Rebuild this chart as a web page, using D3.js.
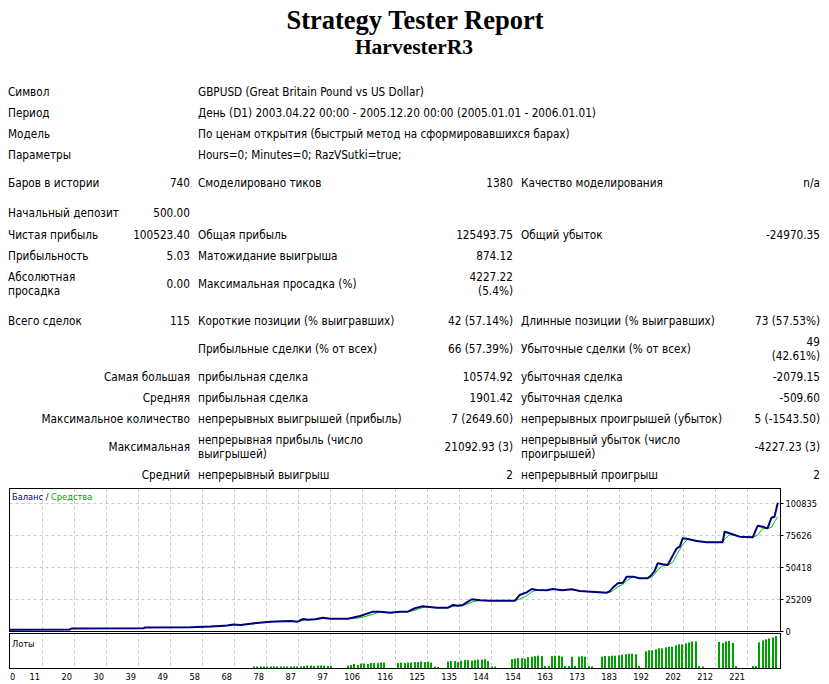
<!DOCTYPE html>
<html>
<head>
<meta charset="utf-8">
<script src="https://cdn.jsdelivr.net/npm/d3@7"></script>
<style>
  body { margin: 0; background: #fff; }
  text { font-family: "DejaVu Sans Condensed", "Liberation Sans", sans-serif; fill: #000; }
  .title { font-family: "Liberation Serif", serif; font-weight: bold; }
  .cell { font-size: 11.7px; }
  .axis { font-size: 9.2px; }
</style>
</head>
<body>
<div class="chart"></div>
<script>
// ---- report text ----
var reportTitle = "Strategy Tester Report";
var expertName = "HarvesterR3";

var infoLabels = ["Символ", "Период", "Модель", "Параметры"];
var infoValues = [
  "GBPUSD (Great Britain Pound vs US Dollar)",
  "День (D1) 2003.04.22 00:00 - 2005.12.20 00:00 (2005.01.01 - 2006.01.01)",
  "По ценам открытия (быстрый метод на сформировавшихся барах)",
  "Hours=0; Minutes=0; RazVSutki=true;"
];

// six columns per row, "\n" = two lines in one cell
var statRows = [
  ["Баров в истории", "740", "Смоделировано тиков", "1380", "Качество моделирования", "n/a"],
  ["Начальный депозит", "500.00", "", "", "", ""],
  ["Чистая прибыль", "100523.40", "Общая прибыль", "125493.75", "Общий убыток", "-24970.35"],
  ["Прибыльность", "5.03", "Матожидание выигрыша", "874.12", "", ""],
  ["Абсолютная\nпросадка", "0.00", "Максимальная просадка (%)", "4227.22\n(5.4%)", "", ""],
  ["Всего сделок", "115", "Короткие позиции (% выигравших)", "42 (57.14%)", "Длинные позиции (% выигравших)", "73 (57.53%)"],
  ["", "", "Прибыльные сделки (% от всех)", "66 (57.39%)", "Убыточные сделки (% от всех)", "49\n(42.61%)"],
  ["", "Самая большая", "прибыльная сделка", "10574.92", "убыточная сделка", "-2079.15"],
  ["", "Средняя", "прибыльная сделка", "1901.42", "убыточная сделка", "-509.60"],
  ["", "Максимальное количество", "непрерывных выигрышей (прибыль)", "7 (2649.60)", "непрерывных проигрышей (убыток)", "5 (-1543.50)"],
  ["", "Максимальная", "непрерывная прибыль (число\nвыигрышей)", "21092.93 (3)", "непрерывный убыток (число\nпроигрышей)", "-4227.23 (3)"],
  ["", "Средний", "непрерывный выигрыш", "2", "непрерывный проигрыш", "2"]
];

// ---- chart data ----
var tradeNo = [0, 18, 18.5, 40, 40.5, 54, 60, 63, 65, 67, 69, 72, 78, 84, 86, 87.7, 89.2, 91.3, 93.7, 95.8,
  101.1, 104.7, 108.6, 110.7, 113.7, 116.6, 119, 121.1, 123.2, 124.7, 127.7, 131, 132.5, 134, 135.4, 138.1,
  140.5, 143.5, 151, 152.4, 154.5, 156, 157.5, 160.5, 162.3, 165, 168, 170.3, 178.4, 179.3, 180.2, 181.7,
  183.2, 184.4, 186.2, 188.2, 190.6, 191.8, 192.7, 193.6, 195.1, 196.6, 198.1, 199.3, 200.2, 201.1, 202.6,
  205.3, 208.3, 213, 213.6, 215.1, 218.1, 222, 223.5, 224.9, 226.4, 227.6, 228.5, 229.5];
var balance = [500, 700, 1600, 1700, 2400, 2500, 3100, 3600, 3900, 4700, 4300, 5400, 7000, 7500, 7000, 9100, 8500, 8900, 10100, 9300,
  9300, 11500, 14900, 14900, 14100, 14900, 14900, 17600, 19100, 18800, 18000, 18000, 20200, 19600, 20200, 24700,
  23900, 23600, 23600, 28100, 30200, 32800, 32000, 31800, 32800, 31800, 32600, 31200, 29900, 31200, 33900, 37300,
  37800, 42600, 42600, 41300, 41300, 43900, 47100, 53100, 52400, 51800, 59200, 65000, 66300, 72900, 72400,
  70800, 69800, 69800, 78100, 76900, 74200, 73700, 82900, 82100, 80800, 89200, 90000, 101023];
var equity = [500, 700, 1600, 1700, 2400, 2500, 3100, 3600, 3900, 4700, 4300, 5400, 7000, 7500, 7000, 8000, 8500, 8900, 9500, 9300,
  9300, 10000, 12800, 14900, 14100, 14900, 14900, 16000, 18000, 18800, 18000, 18000, 19000, 19600, 19500, 22500,
  23900, 23600, 23600, 25000, 27500, 30500, 32000, 31800, 32800, 31800, 32600, 31200, 29900, 30000, 31500, 34500,
  36500, 39500, 42600, 41300, 41300, 42000, 44500, 48000, 51000, 51800, 54000, 60000, 64000, 68000, 72400,
  70800, 69800, 69800, 72000, 76000, 74200, 73700, 75500, 80500, 80800, 81500, 86000, 90000];

// lots per trade position, starting at position lotStart
var lotStart = 73;
var lots = [
  0.3, 0.3, 0.3, 0.3, 0.3, 0.3, 0.3, 0.3, 0.3, 0.3, 0.3, 0.3, 0.3, 0.3, 0.3,
  0.4, 0.5, 0.5, 0.4, 0.5, 0.5, 0.5, 0.4, 0.4,
  0, 0, 0, 0,
  0.5, 0.6, 0.8, 0.6, 0.9, 0.9, 0.8, 1.0, 1.0, 1.0, 1.1, 1.1,
  0, 0, 0,
  1.0, 1.1, 1.0, 1.1, 1.1, 1.2, 1.2, 1.3, 1.2, 1.3, 1.1,
  0.3, 0.2,
  0, 0,
  1.3, 1.4, 1.4, 1.2, 1.5, 1.6, 1.6, 1.5, 1.6, 1.7, 1.7, 1.8, 1.4,
  0.3, 0.3,
  0, 0, 0, 0,
  1.8, 1.9, 2.0, 2.0, 1.9, 2.2, 2.3, 2.4, 2.5, 2.4, 0.4, 0.4, 2.4, 2.5, 2.5, 2.3, 0.4, 0.4,
  2.3, 0.4, 2.3, 2.4, 2.3, 0.4, 0.3,
  0, 0,
  2.3, 2.4, 2.4, 2.5, 2.5, 2.6, 2.7, 2.8, 2.9, 2.9, 2.8, 0.4,
  0,
  3.4, 3.6, 3.6, 3.8, 4.0, 4.0, 4.2, 4.3, 4.3, 4.6, 4.8, 4.8, 5.0, 5.2, 5.4, 5.4,
  0.4, 0.3, 0, 0, 0, 0,
  5.3, 5.1, 5.4, 5.5, 5.1, 0.4,
  0, 0, 0, 0,
  0.4, 0.4, 5.2, 5.6, 5.8, 6.0, 6.2, 6.5
];

var xTickLabels = [0, 11, 20, 30, 39, 49, 58, 68, 78, 87, 97, 106, 116, 125, 135, 144, 154, 163, 173, 183, 192, 202, 212, 221];
var yTickValues = [0, 25209, 50418, 75626, 100835];

// ---- drawing ----
var svg = d3.select(".chart").append("svg")
  .attr("width", 829)
  .attr("height", 684);

svg.append("rect").attr("width", 829).attr("height", 684).attr("fill", "#fff");

// Titles
svg.append("text")
  .attr("class", "title")
  .attr("x", 415).attr("y", 29)
  .attr("text-anchor", "middle")
  .style("font-size", "26.5px")
  .text(reportTitle);
svg.append("text")
  .attr("class", "title")
  .attr("x", 414).attr("y", 54)
  .attr("text-anchor", "middle")
  .style("font-size", "21.5px")
  .text(expertName);

// text cell helper (multi-line, vertically centred on yc)
function cell(x, yc, txt, anchor) {
  if (!txt) return;
  var lines = txt.split("\n");
  lines.forEach(function(l, i) {
    svg.append("text")
      .attr("class", "cell")
      .attr("x", x)
      .attr("y", yc + (i - (lines.length - 1) / 2) * 14 + 4)
      .attr("text-anchor", anchor)
      .text(l);
  });
}

var infoY = [92, 113, 134, 155];
infoLabels.forEach(function(l, i) {
  cell(8, infoY[i], l, "start");
  cell(198, infoY[i], infoValues[i], "start");
});

var colX = [8, 190, 198, 513, 521, 820];
var colAnchor = ["start", "end", "start", "end", "start", "end"];
var rowY = [183, 213, 235, 256, 284, 321, 349, 377, 398, 419, 447, 475];
statRows.forEach(function(row, r) {
  row.forEach(function(c, j) {
    cell(colX[j], rowY[r], c, colAnchor[j]);
  });
});

// Chart frame
var left = 9.5, right = 780.5;
var mainTop = 488.5, mainBottom = 631.5;
var lotTop = 633.5, lotBottom = 668.5;

var xScale = d3.scaleLinear().domain([0, 230]).range([left, right - 1]);
var xGrid = d3.scaleLinear().domain([0, 24]).range([left, right - 1]);
var yScale = d3.scaleLinear().domain([0, 100835]).range([630.5, 503]);
var lotScale = d3.scaleLinear().domain([0, 7]).range([lotBottom - 0.5, lotTop]);

var grid = svg.append("g")
  .attr("stroke", "#c8c8c8")
  .attr("stroke-dasharray", "3,3")
  .attr("stroke-width", 1);

// vertical grid lines (main + lots panels)
grid.selectAll(".vg")
  .data(xTickLabels.slice(1))
  .enter()
  .append("line")
  .attr("x1", (d, i) => Math.round(xGrid(i + 1)) + 0.5)
  .attr("x2", (d, i) => Math.round(xGrid(i + 1)) + 0.5)
  .attr("y1", mainTop)
  .attr("y2", lotBottom);

// horizontal grid lines
grid.selectAll(".hg")
  .data(yTickValues.slice(1))
  .enter()
  .append("line")
  .attr("x1", left)
  .attr("x2", right)
  .attr("y1", d => Math.round(yScale(d)) + 0.5)
  .attr("y2", d => Math.round(yScale(d)) + 0.5);

// Lots bars
svg.selectAll(".lot")
  .data(lots)
  .enter()
  .append("rect")
  .attr("x", (d, i) => Math.round(xScale(lotStart + i)) - 1)
  .attr("y", d => lotScale(d))
  .attr("width", 2)
  .attr("height", d => lotScale(0) - lotScale(d))
  .attr("fill", "#00a000");

// Equity and balance lines
var line = d3.line()
  .x((d, i) => xScale(tradeNo[i]))
  .y(d => yScale(d));

svg.append("path")
  .datum(equity)
  .attr("d", line)
  .attr("fill", "none")
  .attr("stroke", "#00c000")
  .attr("stroke-width", 1);

svg.append("path")
  .datum(balance)
  .attr("d", line)
  .attr("fill", "none")
  .attr("stroke", "#000080")
  .attr("stroke-width", 2)
  .attr("stroke-linejoin", "round");

// Borders
svg.append("rect")
  .attr("x", left).attr("y", mainTop)
  .attr("width", right - left).attr("height", mainBottom - mainTop)
  .attr("fill", "none").attr("stroke", "#000");
svg.append("rect")
  .attr("x", left).attr("y", lotTop)
  .attr("width", right - left).attr("height", lotBottom - lotTop)
  .attr("fill", "none").attr("stroke", "#000");

// Y axis labels with small ticks
var yAxis = svg.append("g");
yTickValues.forEach(function(v) {
  var y = Math.round(yScale(v)) + 0.5;
  yAxis.append("line")
    .attr("x1", right).attr("x2", right + 3)
    .attr("y1", y).attr("y2", y)
    .attr("stroke", "#000");
  yAxis.append("text")
    .attr("class", "axis")
    .attr("x", right + 5)
    .attr("y", y + 3.5)
    .text(v);
});

// X axis labels
svg.selectAll(".xl")
  .data(xTickLabels)
  .enter()
  .append("text")
  .attr("class", "axis")
  .attr("x", (d, i) => i === 0 ? left + 0.5 : Math.round(xGrid(i)) - 2)
  .attr("y", 680)
  .attr("text-anchor", (d, i) => i === 0 ? "start" : "end")
  .text(d => d);

// Panel captions
var cap = svg.append("text").attr("class", "axis").attr("x", 12).attr("y", 500);
cap.append("tspan").style("fill", "#000080").text("Баланс");
cap.append("tspan").text(" / ");
cap.append("tspan").style("fill", "#00a000").text("Средства");

svg.append("text").attr("class", "axis").attr("x", 12).attr("y", 647).text("Лоты");
</script>
</body>
</html>
